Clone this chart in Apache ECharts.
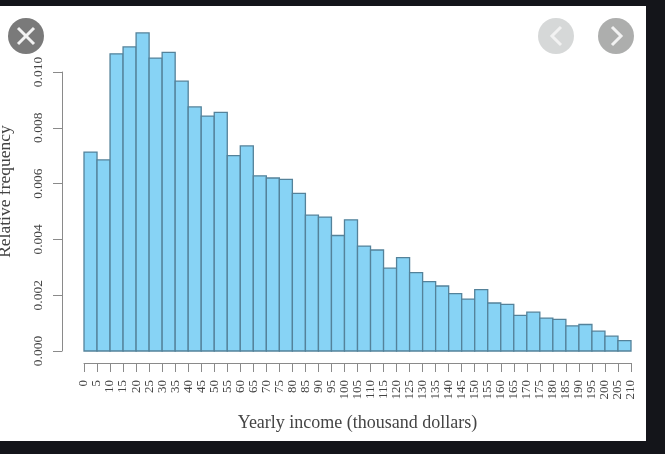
<!DOCTYPE html>
<html>
<head>
<meta charset="utf-8">
<style>html,body{margin:0;padding:0;background:#14151a;overflow:hidden}#c{width:665px;height:454px}</style>
<script src="https://cdn.jsdelivr.net/npm/echarts@6/dist/echarts.min.js"></script>
</head>
<body>
<div id="c"></div>
<script>
var binStart = [0,5,10,15,20,25,30,35,40,45,50,55,60,65,70,75,80,85,90,95,100,105,110,115,120,125,130,135,140,145,150,155,160,165,170,175,180,185,190,195,200,205];
var binEnd = [5,10,15,20,25,30,35,40,45,50,55,60,65,70,75,80,85,90,95,100,105,110,115,120,125,130,135,140,145,150,155,160,165,170,175,180,185,190,195,200,205,210];
var relFreq = [0.00713,0.00685,0.01065,0.0109,0.0114,0.0105,0.0107,0.00967,0.00875,0.00842,0.00855,0.0070,0.00735,0.00628,0.0062,0.00615,0.00565,0.00487,0.0048,0.00414,0.0047,0.00376,0.00362,0.00297,0.00335,0.00281,0.00249,0.00233,0.00206,0.00186,0.0022,0.00172,0.00167,0.00128,0.00139,0.00118,0.00113,0.0009,0.00095,0.00071,0.00053,0.00037];
var xTitle = 'Yearly income (thousand dollars)';
var yTitle = 'Relative frequency';
var serif = '"Liberation Serif", serif';
var axisGrey = '#8a8a8a';
var textGrey = '#444';

var chart = echarts.init(document.getElementById('c'), null, {renderer:'canvas'});
function circle(cx, cy, color){
  return {type:'circle', shape:{cx:cx, cy:cy, r:18}, style:{fill:color}, silent:true, z:20};
}
function stroke(points){
  return {type:'polyline', shape:{points:points}, style:{stroke:'#f2f2f2', lineWidth:3, fill:null}, silent:true, z:21};
}
chart.setOption({
  animation:false,
  backgroundColor:'#14151a',
  grid:{left:84, right:34, top:72, bottom:103},
  xAxis:{
    type:'value', min:0, max:210, interval:5, offset:12,
    splitLine:{show:false},
    axisLine:{show:true, onZero:false, lineStyle:{color:axisGrey, width:1}},
    axisTick:{show:true, length:9, lineStyle:{color:axisGrey, width:1}},
    axisLabel:{rotate:90, margin:17, fontFamily:serif, fontSize:13, color:textGrey, hideOverlap:false, showMinLabel:true, showMaxLabel:true},
    name:xTitle, nameLocation:'middle', nameGap:51,
    nameTextStyle:{fontFamily:serif, fontSize:18, color:textGrey}
  },
  yAxis:{
    type:'value', min:0, max:0.01, interval:0.002, offset:22,
    splitLine:{show:false},
    axisLine:{show:true, onZero:false, lineStyle:{color:axisGrey, width:1}},
    axisTick:{show:true, length:9, lineStyle:{color:axisGrey, width:1}},
    axisLabel:{rotate:90, margin:17, fontFamily:serif, fontSize:13.5, color:textGrey, formatter:function(v){return v.toFixed(3);}, align:'center', verticalAlign:'bottom'}
  },
  graphic:[
    {type:'rect', shape:{x:0,y:6,width:646,height:435}, style:{fill:'#ffffff'}, silent:true, z:-10},
    {type:'text', x:5, y:191.5, rotation:Math.PI/2, silent:true, z:5,
     style:{text:yTitle, font:'17.5px '+serif, fill:textGrey, align:'center', verticalAlign:'middle'}},
    circle(26,36,'#7a7a7a'),
    stroke([[18,28],[34,44]]), stroke([[34,28],[18,44]]),
    circle(556,36,'#d6d8d8'),
    stroke([[561,27],[552,36],[561,45]]),
    circle(616,36,'#adaead'),
    stroke([[612,27],[621,36],[612,45]])
  ],
  series:[{
    type:'custom', clip:false, z:3,
    data:relFreq.map(function(v,i){return [binStart[i],binEnd[i],v];}),
    encode:{x:[0,1], y:2},
    renderItem:function(params, api){
      var a = api.coord([api.value(0), 0]);
      var b = api.coord([api.value(1), api.value(2)]);
      return {type:'rect', shape:{x:a[0], y:b[1], width:b[0]-a[0], height:a[1]-b[1]},
        style:{fill:'#87d3f5', stroke:'#54829a', lineWidth:1.3}};
    }
  }]
});
</script>
</body>
</html>
